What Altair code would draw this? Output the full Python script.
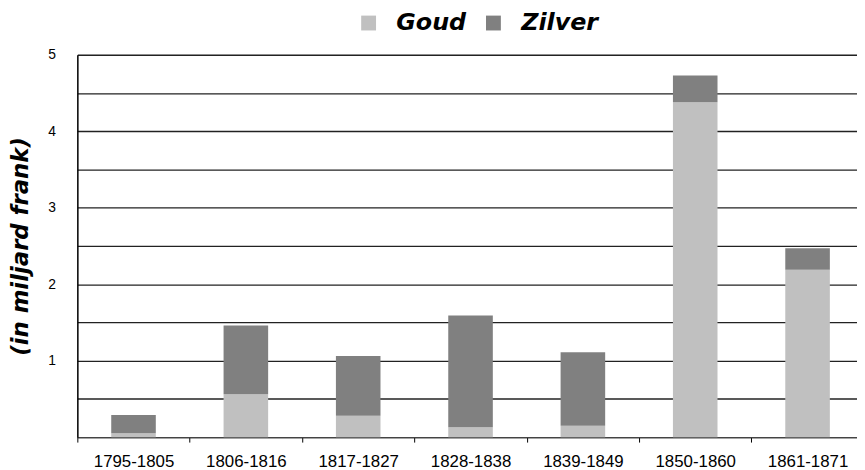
import altair as alt
import pandas as pd

periods = ["1795-1805", "1806-1816", "1817-1827", "1828-1838", "1839-1849", "1850-1860", "1861-1871"]
goud = [0.05, 0.56, 0.28, 0.13, 0.15, 4.38, 2.19]
zilver = [0.24, 0.90, 0.78, 1.46, 0.96, 0.35, 0.28]
series = ["Goud", "Zilver"]
colors = ["#C0C0C0", "#808080"]
y_values = [0, 0.5, 1, 1.5, 2, 2.5, 3, 3.5, 4, 4.5, 5]

rows = []
for p, g, z in zip(periods, goud, zilver):
    rows.append({"periode": p, "metaal": "Goud", "waarde": g, "volgorde": 0})
    rows.append({"periode": p, "metaal": "Zilver", "waarde": z, "volgorde": 1})
df = pd.DataFrame(rows)

FONT = "DejaVu Sans"
TICK_FONT = "Liberation Sans"
W = 787
H = 386
STEP = 113.4

chart = (
    alt.Chart(df)
    .mark_bar(width=45)
    .encode(
        x=alt.X(
            "periode:N",
            sort=periods,
            scale=alt.Scale(domain=periods, range=[0, STEP * len(periods)], paddingInner=0, paddingOuter=0),
            axis=alt.Axis(
                title=None,
                labelAngle=0,
                labelFont=TICK_FONT,
                labelFontSize=17,
                labelColor="#000000",
                labelPadding=12,
                tickBand="extent",
                tickSize=5,
                tickColor="#000000",
                domainColor="#444444",
                domainWidth=1.5,
                grid=False,
            ),
        ),
        y=alt.Y(
            "waarde:Q",
            stack="zero",
            scale=alt.Scale(domain=[0, 5], nice=False),
            axis=alt.Axis(
                title="(in miljard frank)",
                titleFont=FONT,
                titleFontSize=23,
                titleFontWeight="bold",
                titleFontStyle="italic",
                titleColor="#000000",
                titleX=-57,
                titleY=H / 2,
                titleAngle=270,
                titleAlign="center",
                titleBaseline="middle",
                values=y_values,
                labelExpr="datum.value % 1 === 0 && datum.value > 0 ? format(datum.value, 'd') : ''",
                labelFont=TICK_FONT,
                labelFontSize=14,
                labelColor="#000000",
                labelPadding=22,
                ticks=False,
                domainColor="#000000",
                domainWidth=1.5,
                grid=True,
                gridColor="#222222",
                gridWidth=1.3,
            ),
        ),
        color=alt.Color(
            "metaal:N",
            scale=alt.Scale(domain=series, range=colors),
            legend=alt.Legend(
                title=None,
                orient="none",
                direction="horizontal",
                legendX=282,
                legendY=-44,
                symbolType="square",
                symbolSize=225,
                symbolStrokeWidth=0,
                symbolOpacity=1,
                labelFont=FONT,
                labelFontSize=24,
                labelFontWeight="bold",
                labelFontStyle="italic",
                labelColor="#000000",
                labelOffset=16,
                columnPadding=15,
            ),
        ),
        order=alt.Order("volgorde:Q"),
    )
    .properties(
        width=W,
        height=H,
        autosize=alt.AutoSizeParams(type="none"),
        padding={"left": 70, "top": 45, "right": 0, "bottom": 31},
    )
    .configure_view(stroke=None)
    .configure(background="#FFFFFF")
)

chart.save("out.html", embed_options={"renderer": "svg", "actions": False})
